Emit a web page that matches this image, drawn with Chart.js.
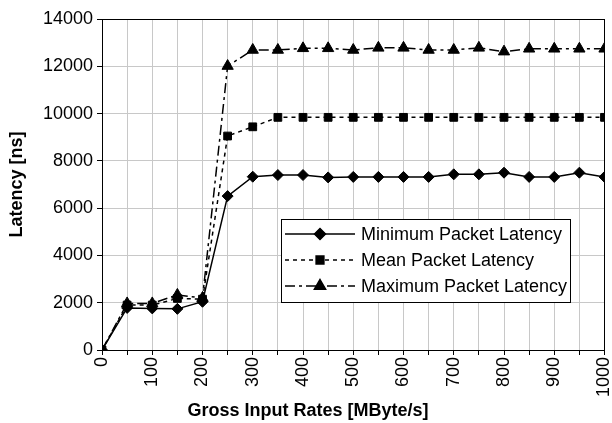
<!DOCTYPE html>
<html>
<head>
<meta charset="utf-8">
<script src="https://cdn.jsdelivr.net/npm/chart.js@4/dist/chart.umd.min.js"></script>
<style>
  html, body { margin: 0; padding: 0; background: #fff; }
  #wrap { width: 612px; height: 423px; }
</style>
</head>
<body>
<div id="wrap"><canvas id="latencyChart"></canvas></div>
<script>
const inputRates = [0, 50, 100, 150, 200, 250, 300, 350, 400, 450, 500, 550, 600, 650, 700, 750, 800, 850, 900, 950, 1000];
const minLatency = [0, 1780, 1760, 1740, 2040, 6510, 7330, 7400, 7400, 7300, 7320, 7320, 7320, 7320, 7430, 7430, 7500, 7320, 7320, 7500, 7320];
const meanLatency = [0, 1900, 1900, 2180, 2150, 9050, 9440, 9840, 9840, 9840, 9840, 9840, 9840, 9840, 9840, 9840, 9840, 9840, 9840, 9840, 9840];
const maxLatency = [0, 1970, 1970, 2330, 2200, 12010, 12690, 12690, 12760, 12760, 12690, 12780, 12780, 12690, 12690, 12780, 12620, 12740, 12740, 12740, 12740];
const seriesNames = ['Minimum Packet Latency', 'Mean Packet Latency', 'Maximum Packet Latency'];

const FONT = '"Liberation Sans", Arial, sans-serif';

const seriesStyle = [
    { dash: [], shape: 'rectRot', radius: 5.5 },
    { dash: [4, 4], shape: 'rect', radius: 5.5 },
    { dash: [10, 4, 3, 4], shape: 'triangle', radius: 6.5 }
];

function toPoints(values) {
    return values.map((v, i) => ({ x: inputRates[i], y: v }));
}

// box round the plot, inset legend, x axis title
const extras = {
    id: 'extras',
    afterDraw(chart) {
        const ctx = chart.ctx;
        const a = chart.chartArea;
        ctx.save();
        ctx.strokeStyle = '#000';
        ctx.lineWidth = 1;
        ctx.strokeRect(Math.round(a.left) + 0.5, Math.round(a.top) + 0.5,
            Math.round(a.right - a.left) - 1, Math.round(a.bottom - a.top));

        // legend
        const bx = 281, by = 219, bw = 289, bh = 83;
        ctx.fillStyle = '#fff';
        ctx.fillRect(bx, by, bw, bh);
        ctx.strokeRect(bx + 0.5, by + 0.5, bw, bh);
        const rows = [234, 260, 286];
        ctx.font = '18px ' + FONT;
        ctx.textBaseline = 'middle';
        seriesNames.forEach((name, i) => {
            const y = rows[i];
            ctx.strokeStyle = '#000';
            ctx.lineWidth = 1.5;
            ctx.setLineDash(seriesStyle[i].dash);
            ctx.beginPath();
            ctx.moveTo(285, y);
            ctx.lineTo(355, y);
            ctx.stroke();
            ctx.setLineDash([]);
            ctx.fillStyle = '#000';
            Chart.helpers.drawPoint(ctx, {
                pointStyle: seriesStyle[i].shape,
                radius: seriesStyle[i].radius,
                borderWidth: 1,
                rotation: 0
            }, 320, y);
            ctx.fill();
            ctx.fillStyle = '#000';
            ctx.textAlign = 'left';
            ctx.fillText(name, 361, y + 1);
        });

        ctx.font = 'bold 18px ' + FONT;
        ctx.textAlign = 'center';
        ctx.textBaseline = 'middle';
        ctx.fillText('Gross Input Rates [MByte/s]', 308, 411);
        ctx.restore();
    }
};

const datasets = [minLatency, meanLatency, maxLatency].map((vals, i) => ({
    label: seriesNames[i],
    data: toPoints(vals),
    borderColor: '#000',
    backgroundColor: '#000',
    borderWidth: 1.5,
    borderDash: seriesStyle[i].dash,
    pointStyle: seriesStyle[i].shape,
    pointRadius: seriesStyle[i].radius,
    pointBackgroundColor: '#000',
    pointBorderColor: '#000',
    pointBorderWidth: 1,
    tension: 0,
    fill: false
}));

new Chart(document.getElementById('latencyChart'), {
    type: 'line',
    data: { datasets: datasets },
    options: {
        responsive: true,
        maintainAspectRatio: false,
        animation: false,
        events: [],
        layout: { padding: { top: 19, right: 7, left: 0, bottom: 0 } },
        plugins: {
            legend: { display: false },
            tooltip: { enabled: false }
        },
        scales: {
            x: {
                type: 'linear',
                min: 0,
                max: 1000,
                afterFit: scale => {
                    scale.height = 73;
                    scale.paddingLeft = 0;
                    scale.paddingRight = 0;
                },
                grid: {
                    color: '#c8c8c8',
                    tickColor: '#000',
                    tickLength: 5
                },
                border: { color: '#000', width: 1 },
                ticks: {
                    stepSize: 50,
                    autoSkip: false,
                    minRotation: 90,
                    maxRotation: 90,
                    padding: 2,
                    color: '#000',
                    font: { family: FONT, size: 18 },
                    callback: v => (v % 100 === 0 ? String(v) : '')
                }
            },
            y: {
                min: 0,
                max: 14000,
                afterFit: scale => { scale.width = 102; },
                grid: {
                    color: '#c8c8c8',
                    tickColor: '#000',
                    tickLength: 5
                },
                border: { color: '#000', width: 1 },
                ticks: {
                    stepSize: 2000,
                    padding: 4,
                    color: '#000',
                    font: { family: FONT, size: 18 },
                    callback: v => String(v)
                },
                title: {
                    display: true,
                    text: 'Latency [ns]',
                    color: '#000',
                    font: { family: FONT, size: 18, weight: 'bold' },
                    padding: { top: 6, bottom: 0 }
                }
            }
        }
    },
    plugins: [extras]
});
</script>
</body>
</html>
